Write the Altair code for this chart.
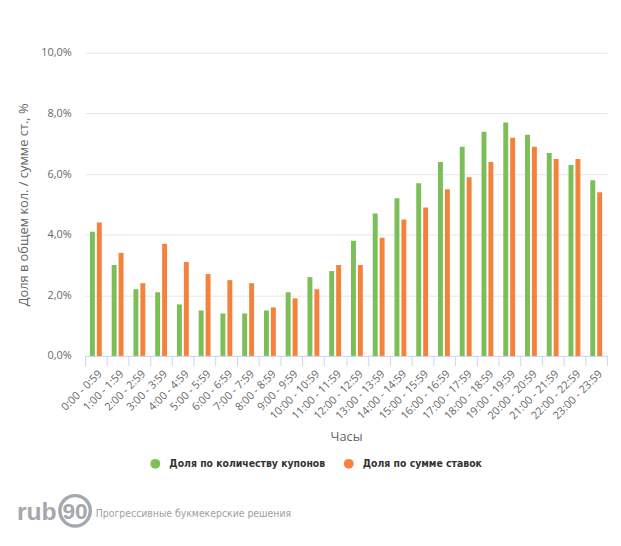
import altair as alt
import pandas as pd

hours = ["0:00 - 0:59", "1:00 - 1:59", "2:00 - 2:59", "3:00 - 3:59", "4:00 - 4:59",
         "5:00 - 5:59", "6:00 - 6:59", "7:00 - 7:59", "8:00 - 8:59", "9:00 - 9:59",
         "10:00 - 10:59", "11:00 - 11:59", "12:00 - 12:59", "13:00 - 13:59",
         "14:00 - 14:59", "15:00 - 15:59", "16:00 - 16:59", "17:00 - 17:59",
         "18:00 - 18:59", "19:00 - 19:59", "20:00 - 20:59", "21:00 - 21:59",
         "22:00 - 22:59", "23:00 - 23:59"]
share_coupons = [4.1, 3.0, 2.2, 2.1, 1.7, 1.5, 1.4, 1.4, 1.5, 2.1, 2.6, 2.8,
                 3.8, 4.7, 5.2, 5.7, 6.4, 6.9, 7.4, 7.7, 7.3, 6.7, 6.3, 5.8]
share_stakes = [4.4, 3.4, 2.4, 3.7, 3.1, 2.7, 2.5, 2.4, 1.6, 1.9, 2.2, 3.0,
                3.0, 3.9, 4.5, 4.9, 5.5, 5.9, 6.4, 7.2, 6.9, 6.5, 6.5, 5.4]
series_names = ["Доля по количеству купонов", "Доля по сумме ставок"]
colors = ["#7cbe58", "#f5823c"]
y_ticks = [0, 2, 4, 6, 8, 10]

rows = []
for h, a, b in zip(hours, share_coupons, share_stakes):
    rows.append({"hour": h, "series": series_names[0], "value": a})
    rows.append({"hour": h, "series": series_names[1], "value": b})
df = pd.DataFrame(rows)

W, H = 529, 307
NARROW = "DejaVu Sans Condensed, Roboto, sans-serif"

bars = alt.Chart(df).mark_bar().encode(
    x=alt.X("hour:N", sort=hours,
            scale=alt.Scale(paddingInner=0, paddingOuter=0),
            axis=alt.Axis(title="Часы", labelAngle=-45, tickBand="extent",
                          tickSize=10, tickColor="#ccd6eb", domainColor="#ccd6eb",
                          labelColor="#666666", labelFont="Open Sans", labelFontSize=11,
                          labelPadding=2, titleFont="Open Sans", titleFontSize=13,
                          titleColor="#666666", titleFontWeight="normal", titlePadding=10,
                          grid=False)),
    xOffset=alt.XOffset("series:N", sort=series_names,
                        scale=alt.Scale(paddingInner=0.286, paddingOuter=0.714)),
    y=alt.Y("value:Q", scale=alt.Scale(domain=[0, 10], nice=False),
            axis=alt.Axis(title="Доля в общем кол. / сумме ст., %", values=y_ticks,
                          labelExpr="replace(format(datum.value, '.1f'), '.', ',') + '%'",
                          domain=False, ticks=False, grid=True, gridColor="#e6e6e6",
                          labelColor="#666666", labelFont="Open Sans", labelFontSize=11,
                          labelPadding=14, titleFont="Open Sans", titleFontSize=13,
                          titleColor="#666666", titleFontWeight="normal", titlePadding=10)),
    color=alt.Color("series:N", sort=series_names,
                    scale=alt.Scale(domain=series_names, range=colors),
                    legend=alt.Legend(orient="none", legendX=66, legendY=411,
                                      direction="horizontal", title=None,
                                      symbolType="circle", symbolSize=100,
                                      symbolStrokeWidth=0, labelFont=NARROW,
                                      labelFontSize=10.5, labelFontWeight="bold",
                                      labelColor="#333333", columnPadding=18,
                                      labelOffset=9, labelLimit=0)),
)

logo_df = pd.DataFrame({"t": ["rub"]})
logo_rub = alt.Chart(logo_df).mark_text(
    font="Liberation Sans", fontSize=25, fontWeight="bold", color="#a5a9ad",
    align="left", baseline="middle"
).encode(x=alt.value(-69), y=alt.value(465), text="t:N")

ring_df = pd.DataFrame({"t": ["90"]})
logo_ring = alt.Chart(ring_df).mark_point(
    shape="circle", size=950, filled=False, strokeWidth=3.5, color="#a5a9ad", opacity=1
).encode(x=alt.value(-10), y=alt.value(464))
logo_90 = alt.Chart(ring_df).mark_text(
    font="Liberation Sans", fontSize=23, fontWeight="bold", color="#a5a9ad",
    align="center", baseline="middle"
).encode(x=alt.value(-10), y=alt.value(465), text="t:N")

tag_df = pd.DataFrame({"t": ["Прогрессивные букмекерские решения"]})
logo_tag = alt.Chart(tag_df).mark_text(
    font=NARROW, fontSize=10.5, color="#a0a0a0",
    align="left", baseline="middle"
).encode(x=alt.value(11), y=alt.value(467), text="t:N")

chart = alt.layer(bars, logo_rub, logo_ring, logo_90, logo_tag).properties(
    width=W, height=H,
    autosize=alt.AutoSizeParams(type="none"),
    padding={"left": 78, "top": 42, "right": 6, "bottom": 180},
).configure_view(stroke=None)

chart.save("out.html", embed_options={"renderer": "svg", "actions": False})
